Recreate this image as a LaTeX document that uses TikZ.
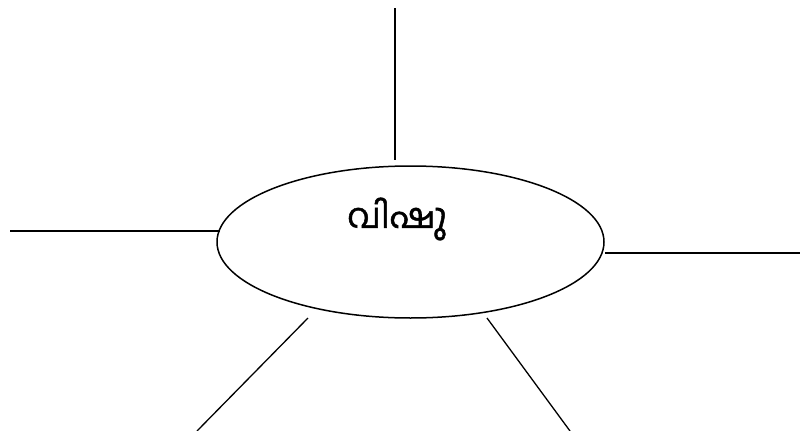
\documentclass[tikz,border=0pt]{standalone}
\usepackage{fontspec}
\newfontfamily\malfont[Script=Malayalam,FakeBold=1.5]{Hind Kochi}
\usetikzlibrary{shapes.geometric}
\begin{document}
\begin{tikzpicture}[x=1pt,y=-1pt,
  spoke/.style={draw=black,line width=1.3pt},
  hub/.style={draw=black,line width=1.5pt,ellipse,minimum width=387pt,minimum height=152pt,inner sep=0pt}]
\useasboundingbox (0,0) rectangle (804,431);
\node[hub] (c) at (410.5,242) {};
\node (t) at (397,219) {\malfont\fontsize{34}{38}\selectfont വിഷു};
\coordinate (a1) at (395,8);   \coordinate (a2) at (395,160);
\coordinate (b1) at (10,231);  \coordinate (b2) at (220,231);
\coordinate (d1) at (605,253); \coordinate (d2) at (800,253);
\coordinate (e1) at (308,318); \coordinate (e2) at (197,431);
\coordinate (f1) at (487,318); \coordinate (f2) at (570,431);
\draw[spoke] (a1) -- (a2);
\draw[spoke] (b1) -- (b2);
\draw[spoke] (d1) -- (d2);
\draw[spoke] (e1) -- (e2);
\draw[spoke] (f1) -- (f2);
\end{tikzpicture}
\end{document}
